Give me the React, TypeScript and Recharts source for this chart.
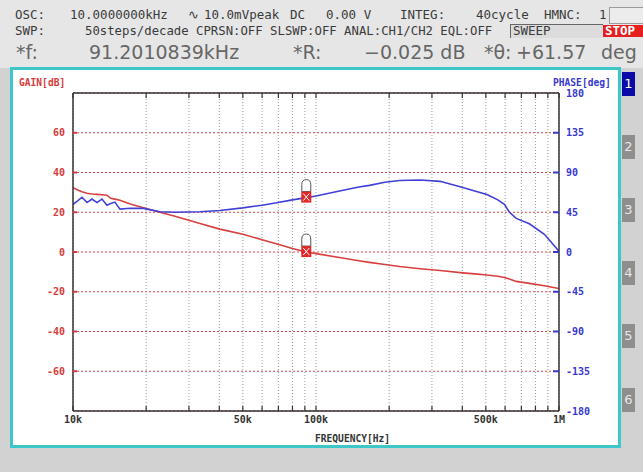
import React from "react";
import { ComposedChart, Line, XAxis, YAxis, CartesianGrid, ReferenceDot } from "recharts";

// ---- data ----
const freqHz = [
  10000, 10450, 10890, 11420, 11970, 12550, 13160, 13790, 14300, 14880,
  15600, 17200, 19500, 22800, 26300, 33300, 40200, 50000, 60000, 69800,
  80000, 91201, 100000, 125000, 150000, 166000, 192000, 221000, 268000, 324000,
  402000, 450000, 505000, 560000, 596000, 625000, 667000, 755000, 871000, 1000000,
];
const gainDb = [
  32.4, 31.2, 30.3, 29.6, 29.2, 29.0, 28.8, 28.6, 27.0, 26.6,
  26.0, 24.2, 22.3, 20.0, 18.0, 14.3, 11.5, 8.9, 6.2, 3.9,
  1.8, 0.0, -0.8, -2.8, -4.4, -5.2, -6.3, -7.3, -8.4, -9.3,
  -10.5, -11.0, -11.6, -12.2, -12.8, -13.6, -14.8, -15.8, -17.0, -18.4,
];
const phaseDeg = [
  54, 58, 62, 56, 60, 56, 60, 53, 55, 56.5,
  48.5, 49.5, 49.4, 45.5, 45, 45.5, 47, 50, 53, 56,
  59, 61.57, 63.3, 69, 73.5, 75.4, 79, 81, 81.5, 80,
  73, 69, 65, 59, 54, 45, 38, 32, 20, 1,
];
const freqTicks = [
  10000, 20000, 30000, 40000, 50000, 60000, 70000, 80000, 90000,
  100000, 200000, 300000, 400000, 500000, 600000, 700000, 800000, 900000, 1000000,
];
const freqTickLabels: Record<number, string> = { 10000: "10k", 50000: "50k", 100000: "100k", 500000: "500k", 1000000: "1M" };
const gainTicks = [-60, -40, -20, 0, 20, 40, 60];
const phaseTicks = [-180, -135, -90, -45, 0, 45, 90, 135, 180];
const markerFreq = 91201;
const markerGain = -0.025;
const markerPhase = 61.57;

const data = freqHz.map((f, i) => ({ f, gain: gainDb[i], phase: phaseDeg[i] }));

const RED = "#d83a3a";
const BLUE = "#3838d0";
const MONO = "'DejaVu Sans Mono', monospace";

const BottomTick = (props: any) => {
  const { x, y, payload } = props;
  const lbl = freqTickLabels[payload.value];
  return (
    <g>
      <line x1={x} x2={x} y1={y} y2={y - 5} stroke="#333" strokeWidth={1.2} />
      {lbl ? (
        <text x={x} y={y + 12} textAnchor="middle" fontFamily={MONO} fontSize={10} fontWeight="bold" fill="#333">
          {lbl}
        </text>
      ) : null}
    </g>
  );
};
const TopTick = (props: any) => {
  const { x, y } = props;
  return <line x1={x} x2={x} y1={y} y2={y + 5} stroke="#333" strokeWidth={1.2} />;
};
const LeftTick = (props: any) => {
  const { x, y, payload } = props;
  return (
    <g>
      <line x1={x} x2={x + 4} y1={y} y2={y} stroke={RED} strokeWidth={2} />
      <text x={x - 8} y={y + 3.5} textAnchor="end" fontFamily={MONO} fontSize={10} fontWeight="bold" fill={RED}>
        {payload.value}
      </text>
    </g>
  );
};
const RightTick = (props: any) => {
  const { x, y, payload } = props;
  const v = payload.value;
  return (
    <g>
      {v !== 180 && v !== -180 ? <line x1={x - 6} x2={x} y1={y} y2={y} stroke={BLUE} strokeWidth={2} /> : null}
      <text x={x + 7} y={y + 3.5} textAnchor="start" fontFamily={MONO} fontSize={10} fontWeight="bold" fill={BLUE}>
        {v}
      </text>
    </g>
  );
};

const Marker = (props: any) => {
  const { cx, cy } = props;
  if (cx == null || cy == null) return <g />;
  return (
    <g>
      <path
        d={`M${cx - 4.5},${cy - 6} L${cx - 4.5},${cy - 13} Q${cx - 4.5},${cy - 18} ${cx},${cy - 18} Q${cx + 4.5},${cy - 18} ${cx + 4.5},${cy - 13} L${cx + 4.5},${cy - 6} Z`}
        fill="#fff"
        stroke="#555"
        strokeWidth={1}
      />
      <rect x={cx - 5} y={cy - 6} width={10} height={11} fill="#e02828" />
      <line x1={cx - 3} y1={cy - 4} x2={cx + 3} y2={cy + 3} stroke="#fff" strokeWidth={1} />
      <line x1={cx + 3} y1={cy - 4} x2={cx - 3} y2={cy + 3} stroke="#fff" strokeWidth={1} />
    </g>
  );
};

const hdr: React.CSSProperties = { position: "absolute", fontFamily: MONO, fontSize: 12.5, color: "#3a3a3a", whiteSpace: "pre", lineHeight: "14px" };
const big: React.CSSProperties = { position: "absolute", fontFamily: "'DejaVu Sans', sans-serif", fontSize: 19, color: "#666", whiteSpace: "pre", lineHeight: "22px" };

const buttonsY = [72, 135, 198, 261, 324, 388];

export default function App() {
  return (
    <div style={{ position: "absolute", left: 0, top: 0, width: 643, height: 472, overflow: "hidden", background: "#d2d2d2" }}>
      {/* header */}
      <div style={{ position: "absolute", left: 0, top: 0, width: 643, height: 68, background: "#e6e6e6" }} />
      <div style={{ ...hdr, left: 15, top: 8 }}>OSC:</div>
      <div style={{ ...hdr, left: 70, top: 8 }}>10.0000000kHz</div>
      <div style={{ ...hdr, left: 188, top: 8 }}>∿</div>
      <div style={{ ...hdr, left: 204, top: 8 }}>10.0mVpeak</div>
      <div style={{ ...hdr, left: 290, top: 8 }}>DC</div>
      <div style={{ ...hdr, left: 326, top: 8 }}>0.00 V</div>
      <div style={{ ...hdr, left: 400, top: 8 }}>INTEG:</div>
      <div style={{ ...hdr, left: 476, top: 8 }}>40cycle</div>
      <div style={{ ...hdr, left: 544, top: 8 }}>HMNC:</div>
      <div style={{ ...hdr, left: 599, top: 8 }}>1</div>
      <div style={{ position: "absolute", left: 609, top: 7, width: 40, height: 15, background: "#ececec", border: "1px solid #9a9a9a" }} />

      <div style={{ ...hdr, left: 15, top: 24 }}>SWP:</div>
      <div style={{ ...hdr, left: 85, top: 24, fontSize: 12.3 }}>50steps/decade CPRSN:OFF SLSWP:OFF ANAL:CH1/CH2 EQL:OFF</div>
      <div style={{ position: "absolute", left: 510, top: 24, width: 92, height: 13, background: "#dcdcdc", borderTop: "1px solid #666", borderLeft: "1px solid #666" }} />
      <div style={{ ...hdr, left: 513, top: 24 }}>SWEEP</div>
      <div style={{ position: "absolute", left: 603, top: 25, width: 40, height: 12, background: "#e42020" }} />
      <div style={{ ...hdr, left: 605, top: 24, color: "#fff", fontWeight: "bold" }}>STOP</div>

      <div style={{ ...big, left: 16, top: 41 }}>*f:</div>
      <div style={{ ...big, left: 89, top: 41 }}>91.2010839kHz</div>
      <div style={{ ...big, left: 293, top: 41 }}>*R:</div>
      <div style={{ ...big, left: 364, top: 41 }}>−0.025 dB</div>
      <div style={{ ...big, left: 484, top: 41 }}>*θ:</div>
      <div style={{ ...big, left: 516, top: 41 }}>+61.57</div>
      <div style={{ ...big, left: 601, top: 41 }}>deg</div>

      {/* panel */}
      <div style={{ position: "absolute", left: 10, top: 67, width: 611, height: 381, boxSizing: "border-box", border: "3px solid #3cc8c8", background: "#ffffff" }} />
      {buttonsY.map((by, i) => (
        <div
          key={i}
          style={{
            position: "absolute", left: 622, top: by, width: 13, height: 24,
            background: i === 0 ? "#0a0aa8" : "#8e8e8e", color: i === 0 ? "#fff" : "#e8e8e8",
            fontFamily: "'DejaVu Sans', sans-serif", fontSize: 13, textAlign: "center", lineHeight: "24px",
          }}
        >
          {i + 1}
        </div>
      ))}

      <div style={{ position: "absolute", left: 19, top: 77, fontFamily: MONO, fontSize: 9.6, fontWeight: "bold", color: RED, whiteSpace: "pre" }}>GAIN[dB]</div>
      <div style={{ position: "absolute", left: 553, top: 77, fontFamily: MONO, fontSize: 9.6, fontWeight: "bold", color: BLUE, whiteSpace: "pre" }}>PHASE[deg]</div>
      <div style={{ position: "absolute", left: 315, top: 433, fontFamily: MONO, fontSize: 9.6, fontWeight: "bold", color: "#333", whiteSpace: "pre" }}>FREQUENCY[Hz]</div>

      <div style={{ position: "absolute", left: 0, top: 0 }}>
        <ComposedChart width={643} height={472} data={data} margin={{ top: 92, right: 44, bottom: 41, left: 33 }}>
          <CartesianGrid xAxisId="b" yAxisId="g" vertical={false} stroke="#e04848" strokeDasharray="2 2" strokeWidth={1.2} />
          <CartesianGrid xAxisId="b" yAxisId="g" horizontal={false} stroke="#9a9a9a" strokeDasharray="1 2" />
          <XAxis
            xAxisId="b" dataKey="f" type="number" scale="log" domain={[10000, 1000000]} ticks={freqTicks}
            allowDataOverflow height={20} tickLine={false} tickSize={0} tickMargin={0}
            axisLine={{ stroke: "#333", strokeWidth: 1.5 }} tick={<BottomTick />} interval={0}
          />
          <XAxis
            xAxisId="t" orientation="top" dataKey="f" type="number" scale="log" domain={[10000, 1000000]} ticks={freqTicks}
            allowDataOverflow height={1} tickLine={false} tickSize={0} tickMargin={0}
            axisLine={{ stroke: "#333", strokeWidth: 1.5 }} tick={<TopTick />} interval={0}
          />
          <YAxis
            yAxisId="g" orientation="left" type="number" domain={[-80, 80]} ticks={gainTicks} width={40}
            tickLine={false} tickSize={0} tickMargin={0} axisLine={{ stroke: "#333", strokeWidth: 1.5 }} tick={<LeftTick />} interval={0}
          />
          <YAxis
            yAxisId="p" orientation="right" type="number" domain={[-180, 180]} ticks={phaseTicks} width={40}
            tickLine={false} tickSize={0} tickMargin={0} axisLine={{ stroke: "#333", strokeWidth: 1.5 }} tick={<RightTick />} interval={0}
          />
          <Line xAxisId="b" yAxisId="g" dataKey="gain" stroke="#d84040" strokeWidth={1.6} dot={false} isAnimationActive={false} type="linear" />
          <Line xAxisId="b" yAxisId="p" dataKey="phase" stroke="#4040d8" strokeWidth={1.6} dot={false} isAnimationActive={false} type="linear" />
          <ReferenceDot xAxisId="b" yAxisId="g" x={markerFreq} y={markerGain} r={5} shape={<Marker />} />
          <ReferenceDot xAxisId="b" yAxisId="p" x={markerFreq} y={markerPhase} r={5} shape={<Marker />} />
        </ComposedChart>
      </div>
    </div>
  );
}
